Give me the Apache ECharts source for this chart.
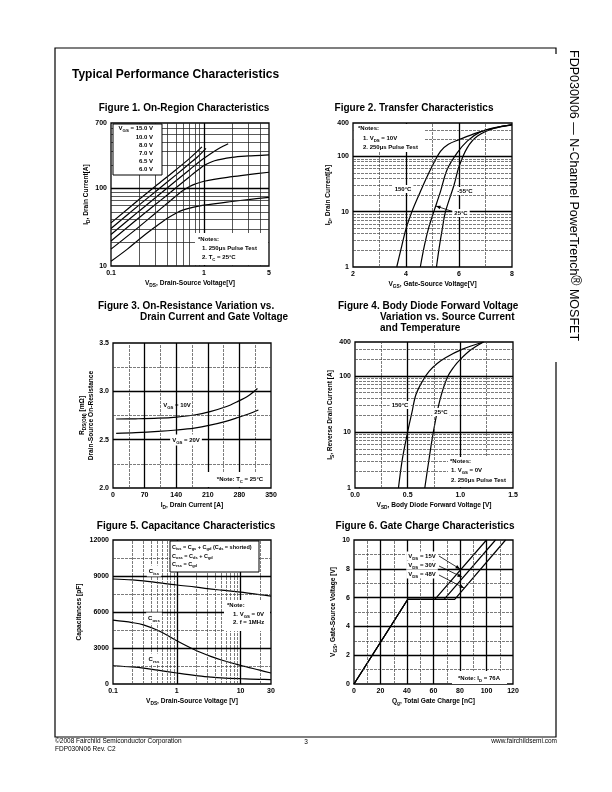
<!DOCTYPE html>
<html><head><meta charset="utf-8">
<script src="https://cdn.jsdelivr.net/npm/echarts@6/dist/echarts.min.js"></script>
<style>html,body{margin:0;padding:0;background:#fff}#c{width:612px;height:792px}</style>
</head><body><div id="c"></div>
<script>
// ---------- DATA ----------
// Figure 1: On-Region Characteristics  [VDS (V), ID (A)]
const f1_vgs15 = [[0.1,36],[0.2,72],[0.3,107],[0.5,175],[0.7,245],[0.95,345]];
const f1_vgs10 = [[0.1,30.5],[0.2,61],[0.3,91],[0.5,150],[0.7,210],[0.85,255],[1.05,330]];
const f1_vgs8  = [[0.1,25.5],[0.2,51],[0.3,76],[0.5,126],[0.7,175],[0.85,212],[1,245],[1.2,285],[1.4,320],[1.6,350],[1.82,378]];
const f1_vgs7  = [[0.1,21],[0.2,42],[0.3,62],[0.4,82],[0.5,102],[0.6,122],[0.7,142],[0.8,162],[0.9,180],[1,198],[1.3,228],[2,252],[3,263],[5,272]];
const f1_vgs65 = [[0.1,16.5],[0.2,32],[0.3,48],[0.4,64],[0.5,80],[0.6,95],[0.7,106],[0.8,114],[1,124],[2,142],[3,151],[5,162]];
const f1_vgs6  = [[0.1,11.5],[0.15,16.5],[0.2,22],[0.3,32],[0.4,41],[0.5,48],[0.6,53],[0.8,58],[1,61],[2,68],[3,72],[5,77]];
const f1_xTicks = [0.1,1,5];
const f1_yTicks = [10,100,700];

// Figure 2: Transfer Characteristics [VGS (V), ID (A)]
const f2_t150 = [[3.65,1],[3.8,2],[4.0,4.9],[4.22,10],[4.54,22.9],[4.92,57],[5.3,123],[5.6,165],[6,200],[6.7,268],[7.3,320],[8,369]];
const f2_t25  = [[4.54,1],[4.7,2.5],[4.85,5],[5.05,10],[5.3,23],[5.55,57],[5.93,115],[6.31,188],[6.82,279],[7.4,335],[8,372]];
const f2_tm55 = [[5.15,1],[5.25,2.2],[5.37,4.9],[5.49,10],[5.81,30],[6,65],[6.31,142],[6.7,232],[7.33,321],[8,375]];
const f2_yTicks = [1,10,100,400];

// Figure 3: On-Resistance [ID (A), RDS(on) (mOhm)]
const f3_vgs10 = [[7,2.714],[50,2.716],[100,2.722],[141,2.734],[180,2.755],[215,2.79],[250,2.84],[274,2.89],[300,2.955],[320,3.03]];
const f3_vgs20 = [[7,2.565],[50,2.572],[100,2.585],[141,2.6],[180,2.62],[215,2.65],[250,2.69],[274,2.725],[300,2.765],[322,2.807]];

// Figure 4: Body Diode [VSD (V), IS (A)]
const f4_t150 = [[0.4125,1],[0.45,3.3],[0.5,10],[0.54,22],[0.578,46],[0.64,80],[0.703,120],[0.78,165],[0.859,210],[1.016,295],[1.22,400]];
const f4_t25  = [[0.6625,1],[0.7,3],[0.744,10],[0.803,35],[0.875,92],[0.94,145],[1.0,196],[1.1,290],[1.22,400]];
const f4_yTicks = [1,10,100,400];

// Figure 5: Capacitance [VDS (V), C (pF)]
const f5_ciss = [[0.1,8750],[0.2,8680],[0.3,8600],[0.5,8450],[1,8250],[2,8080],[3,7950],[5,7820],[10,7650],[20,7450],[30,7330]];
const f5_coss = [[0.1,5320],[0.2,5120],[0.3,4930],[0.55,4380],[1,3600],[1.9,2850],[3.4,2300],[5,2000],[10,1550],[20,1150],[30,915]];
const f5_crss = [[0.1,1520],[0.2,1420],[0.3,1330],[0.5,1150],[1,915],[2,700],[3.4,580],[5,510],[10,440],[20,390],[30,360]];
const f5_xTicks = [0.1,1,10,30];

// Figure 6: Gate Charge [Qg (nC), VGS (V)]
const f6_vds15 = [[0,0],[40.5,5.87],[61,5.87],[100,10]];
const f6_vds30 = [[0,0],[40.5,5.87],[68,5.87],[106.8,10]];
const f6_vds48 = [[0,0],[40.5,5.87],[76,5.87],[114.4,10]];

// grid line values  [xMinor, xMajor, yMinor, yMajor]
const g1 = [[0.2,0.3,0.4,0.5,0.6,0.7,0.8,0.9,2,3,4],[1],[20,30,40,50,60,70,80,90,200,300,400,500,600],[100]];
const g2 = [[3,5,7],[4,6],[2,3,4,5,6,7,8,9,20,30,40,50,60,70,80,90,200,300],[10,100]];
const g3 = [[35,105,175,245,315],[70,140,210,280],[2.25,2.75,3.25],[2.5,3.0]];
const g4 = [[0.25,0.75,1.25],[0.5,1.0],[2,3,4,5,6,7,8,9,20,30,40,50,60,70,80,90,200,300],[10,100]];
const g5 = [[0.2,0.3,0.4,0.5,0.6,0.7,0.8,0.9,2,3,4,5,6,7,8,9,20],[1,10],[1500,4500,7500,10500],[3000,6000,9000]];
const g6 = [[10,30,50,70,90,110],[20,40,60,80,100],[1,3,5,7,9],[2,4,6,8]];

// ---------- CHART ----------
const FF = 'Liberation Sans, Arial, sans-serif';
const chart = echarts.init(document.getElementById('c'), null, {renderer:'canvas'});
const SUB = {fontSize:4.8, fontWeight:'bold', fontFamily:FF, lineHeight:10, verticalAlign:'bottom', color:'#000'};

const grids = [
  {left:111, top:123, width:158, height:143},
  {left:353, top:123, width:159, height:144},
  {left:113, top:343, width:158, height:145},
  {left:355, top:342, width:158, height:146},
  {left:113, top:540, width:158, height:144},
  {left:354, top:540, width:159, height:144}
].map(g => Object.assign({show:true, borderColor:'#000', borderWidth:1.3, backgroundColor:'transparent'}, g));

function fmt(v){ return String(+(+v).toPrecision(4)); }
const lblBase = {fontFamily:FF, fontWeight:'bold', fontSize:7, color:'#000'};
function axis(i, type, min, max, opts, name, nameGap, dim){
  const a = {
    gridIndex:i, type:type, min:min, max:max,
    axisLine:{show:false}, axisTick:{show:false},
    splitLine:{show:false}, minorTick:{show:false}, minorSplitLine:{show:false},
    axisLabel:Object.assign({}, lblBase, {margin:4}),
    name:name, nameLocation:'middle', nameGap:nameGap,
    nameTextStyle:{fontFamily:FF, fontWeight:'bold', fontSize:6.6, color:'#000', lineHeight:10, rich:{s:SUB}}
  };
  if (type === 'log') { a.logBase = 10; a.axisLabel.customValues = opts.ticks; a.axisLabel.formatter = fmt; }
  else { a.interval = opts.interval; a.axisLabel.formatter = opts.formatter || (v => String(v)); }
  if (dim === 'y') { a.nameRotate = 90; }
  return a;
}

const xAxes = [
  axis(0,'log',0.1,5,{ticks:f1_xTicks},'V{s|DS}, Drain-Source Voltage[V]',9,'x'),
  axis(1,'value',2,8,{interval:2},'V{s|GS}, Gate-Source Voltage[V]',9,'x'),
  axis(2,'value',0,350,{interval:70},'I{s|D}, Drain Current [A]',9,'x'),
  axis(3,'value',0,1.5,{interval:0.5, formatter:v=>v.toFixed(1)},'V{s|SD}, Body Diode Forward Voltage [V]',9,'x'),
  axis(4,'log',0.1,30,{ticks:f5_xTicks},'V{s|DS}, Drain-Source Voltage [V]',11,'x'),
  axis(5,'value',0,120,{interval:20},'Q{s|g}, Total Gate Charge [nC]',9,'x')
];
const yAxes = [
  axis(0,'log',10,700,{ticks:f1_yTicks},'I{s|D}, Drain Current[A]',15,'y'),
  axis(1,'log',1,400,{ticks:f2_yTicks},'I{s|D}, Drain Current[A]',15,'y'),
  axis(2,'value',2,3.5,{interval:0.5, formatter:v=>v.toFixed(1)},'R{s|DS(ON)} [mΩ]\nDrain-Source On-Resistance',13,'y'),
  axis(3,'log',1,400,{ticks:f4_yTicks},'I{s|S}, Reverse Drain Current [A]',19,'y'),
  axis(4,'value',0,12000,{interval:3000},'Capacitances [pF]',29,'y'),
  axis(5,'value',0,10,{interval:2},'V{s|GS}, Gate-Source Voltage [V]',14,'y')
];
yAxes[2].nameTextStyle.lineHeight = 8;

const series = [];
function gridSeries(i, g, dashed){
  const minorStyle = {color: dashed ? '#444' : '#222', width: dashed ? 0.7 : 0.75, type: dashed ? [3,1] : 'solid'};
  const majorStyle = {color:'#000', width:1.3, type:'solid'};
  const d = [];
  g[0].forEach(v => d.push({xAxis:v, lineStyle:minorStyle}));
  g[2].forEach(v => d.push({yAxis:v, lineStyle:minorStyle}));
  g[1].forEach(v => d.push({xAxis:v, lineStyle:majorStyle}));
  g[3].forEach(v => d.push({yAxis:v, lineStyle:majorStyle}));
  series.push({type:'line', xAxisIndex:i, yAxisIndex:i, data:[], silent:true, z:1,
    markLine:{silent:true, symbol:['none','none'], label:{show:false}, animation:false, data:d}});
}
gridSeries(0,g1,false); gridSeries(1,g2,true); gridSeries(2,g3,true);
gridSeries(3,g4,true); gridSeries(4,g5,true); gridSeries(5,g6,true);

function curve(i, data, smooth){
  series.push({type:'line', xAxisIndex:i, yAxisIndex:i, data:data, showSymbol:false, symbol:'none',
    smooth: smooth === undefined ? 0.35 : smooth, z:3, silent:true,
    lineStyle:{color:'#000', width:1.2}});
}
[f1_vgs15,f1_vgs10,f1_vgs8,f1_vgs7,f1_vgs65,f1_vgs6].forEach(d=>curve(0,d));
[f2_t150,f2_t25,f2_tm55].forEach(d=>curve(1,d));
[f3_vgs10,f3_vgs20].forEach(d=>curve(2,d));
[f4_t150,f4_t25].forEach(d=>curve(3,d));
[f5_ciss,f5_coss,f5_crss].forEach(d=>curve(4,d));
[f6_vds15,f6_vds30,f6_vds48].forEach(d=>curve(5,d,false));

// ---------- ANNOTATIONS ----------
const G = [];
function T(x,y,text,o){
  o = o || {};
  const size = o.size || 6.5, weight = o.weight || 'bold';
  const st = {text:text, x:0, y:0, fill:'#000', font: weight+' '+size+'px '+FF,
    fontSize:size, fontWeight:weight, fontFamily:FF,
    align:o.align||'left', textAlign:o.align||'left', verticalAlign:'middle', textVerticalAlign:'middle',
    rich:{s:{fontSize:size*0.72, fontWeight:weight, fontFamily:FF, fill:'#000', lineHeight:size+3, verticalAlign:'bottom'},
          r:{fontSize:size*1.1, fontWeight:weight, fontFamily:FF, fill:'#000', lineHeight:size+6, verticalAlign:'top'}}};
  if (o.bg) { st.backgroundColor = '#fff'; st.padding = o.pad || [1,2]; }
  G.push({type:'text', x:x, y:y, rotation:o.rot||0, z:100, style:st});
}
function R(x,y,w,h,stroke){
  G.push({type:'rect', z:90, shape:{x:x,y:y,width:w,height:h},
    style:{fill:'#fff', stroke: stroke ? '#000' : null, lineWidth: stroke ? 1 : 0}});
}
function L(x1,y1,x2,y2,w){
  G.push({type:'line', z:95, shape:{x1:x1,y1:y1,x2:x2,y2:y2}, style:{stroke:'#000', lineWidth:w||0.8}});
}
function A(x1,y1,x2,y2){
  L(x1,y1,x2,y2,0.8);
  const ang = Math.atan2(y2-y1, x2-x1), len = 4.5, wid = 1.8;
  const bx = x2 - len*Math.cos(ang), by = y2 - len*Math.sin(ang);
  const nx = -Math.sin(ang), ny = Math.cos(ang);
  G.push({type:'polygon', z:96, shape:{points:[[x2,y2],[bx+nx*wid,by+ny*wid],[bx-nx*wid,by-ny*wid]]}, style:{fill:'#000'}});
}

// page frame
G.push({type:'polyline', z:50, shape:{points:[[556,54],[556,48],[55,48],[55,737],[556,737],[556,362]]},
  style:{stroke:'#000', lineWidth:1.2, fill:null}});
T(72,75,'Typical Performance Characteristics',{size:12});
T(573,50,'FDP030N06 — N-Channel PowerTrench{r|®} MOSFET',{size:12.5, weight:'normal', rot:-Math.PI/2});
// footer
T(55,741,'©2008 Fairchild Semiconductor Corporation',{size:6.5, weight:'normal'});
T(55,749,'FDP030N06 Rev. C2',{size:6.5, weight:'normal'});
T(306,742,'3',{size:6.5, weight:'normal', align:'center'});
T(557,741,'www.fairchildsemi.com',{size:6.5, weight:'normal', align:'right'});

// figure titles
T(184,108,'Figure 1. On-Region Characteristics',{size:10, align:'center'});
T(414,108,'Figure 2. Transfer Characteristics',{size:10, align:'center'});
T(98,306,'Figure 3. On-Resistance Variation vs.',{size:10});
T(140,317,'Drain Current and Gate Voltage',{size:10});
T(338,306,'Figure 4. Body Diode Forward Voltage',{size:10});
T(380,317,'Variation vs. Source Current',{size:10});
T(380,328,'and Temperature',{size:10});
T(186,526,'Figure 5. Capacitance Characteristics',{size:10, align:'center'});
T(425,526,'Figure 6. Gate Charge Characteristics',{size:10, align:'center'});

// Fig 1 legend & notes
R(113,124,49,51,true);
T(153,128,'V{s|GS} = 15.0 V',{size:6, align:'right'});
T(153,137,'10.0 V',{size:6, align:'right'});
T(153,145,'8.0 V',{size:6, align:'right'});
T(153,153,'7.0 V',{size:6, align:'right'});
T(153,161,'6.5 V',{size:6, align:'right'});
T(153,169,'6.0 V',{size:6, align:'right'});
R(195,233,73,32,false);
T(198,239,'*Notes:',{size:6});
T(202,248,'1. 250μs Pulse Test',{size:6});
T(202,257,'2. T{s|C} = 25°C',{size:6});

// Fig 2
R(354,124,70,28,false);
T(358,128,'*Notes:',{size:6});
T(363,138,'1. V{s|DS} = 10V',{size:6});
T(363,147,'2. 250μs Pulse Test',{size:6});
T(403,189,'150°C',{size:6, align:'center', bg:true});
T(465,191,'-55°C',{size:6, align:'center', bg:true});
T(461,213,'25°C',{size:6, align:'center', bg:true});
A(454,212,436,206);

// Fig 3
T(177,405,'V{s|GS} = 10V',{size:6, align:'center'});
T(186,440,'V{s|GS} = 20V',{size:6, align:'center', bg:true});
R(206,472,64,15,false);
T(240,479,'*Note: T{s|C} = 25°C',{size:6, align:'center'});

// Fig 4
T(400,405,'150°C',{size:6, align:'center', bg:true});
T(441,412,'25°C',{size:6, align:'center', bg:true});
R(448,457,64,30,false);
T(450,461,'*Notes:',{size:6});
T(451,470,'1. V{s|GS} = 0V',{size:6});
T(451,480,'2. 250μs Pulse Test',{size:6});

// Fig 5
R(170,541,89,31,true);
T(172,547,'C{s|iss} = C{s|gs} + C{s|gd} (C{s|ds} = shorted)',{size:5.5});
T(172,556,'C{s|oss} = C{s|ds} + C{s|gd}',{size:5.5});
T(172,564,'C{s|rss} = C{s|gd}',{size:5.5});
T(154,571,'C{s|iss}',{size:6, align:'center', bg:true});
T(154,618,'C{s|oss}',{size:6, align:'center', bg:true});
T(154,659,'C{s|rss}',{size:6, align:'center', bg:true});
R(224,600,46,31,false);
T(227,605,'*Note:',{size:6});
T(233,614,'1. V{s|GS} = 0V',{size:6});
T(233,622,'2. f = 1MHz',{size:6});

// Fig 6
T(422,556,'V{s|DS} = 15V',{size:6, align:'center', bg:true, pad:[0,2]});
T(422,565,'V{s|DS} = 30V',{size:6, align:'center', bg:true, pad:[0,2]});
T(422,574,'V{s|DS} = 48V',{size:6, align:'center', bg:true, pad:[0,2]});
A(439,556,460,569);
A(439,566,462,577);
A(439,575,464,588);
R(452,671,55,13,false);
T(479,678,'*Note: I{s|D} = 76A',{size:6, align:'center'});

chart.setOption({
  animation:false,
  grid:grids, xAxis:xAxes, yAxis:yAxes, series:series, graphic:G
});
</script></body></html>
